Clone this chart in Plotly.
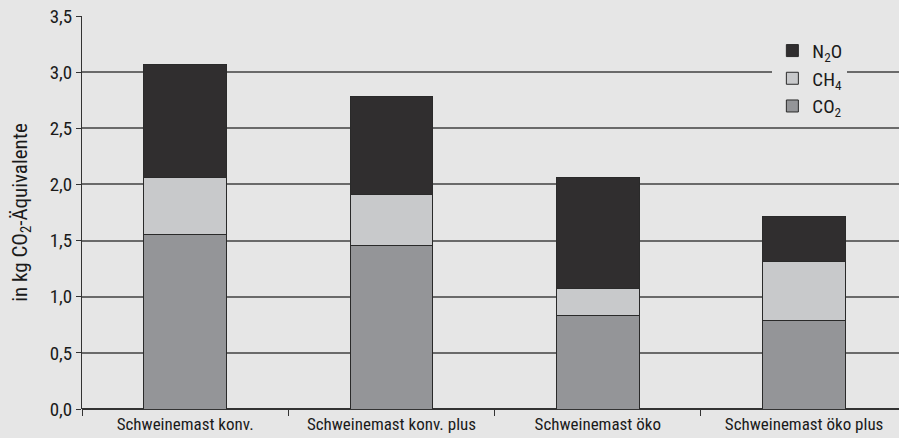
import plotly.graph_objects as go

categories = ["Schweinemast konv.", "Schweinemast konv. plus", "Schweinemast öko", "Schweinemast öko plus"]
co2 = [1.55, 1.46, 0.83, 0.79]
ch4 = [0.51, 0.45, 0.24, 0.52]
n2o = [1.01, 0.87, 0.99, 0.40]

FONT = "Liberation Sans Narrow, Roboto Condensed, Arial Narrow, sans-serif"
BG = "#e6e6e6"
EDGE = "#2a2a2a"

fig = go.Figure()
fig.add_trace(go.Bar(x=categories, y=co2, name="CO<sub>2</sub>", marker=dict(color="#949598", line=dict(color=EDGE, width=1))))
fig.add_trace(go.Bar(x=categories, y=ch4, name="CH<sub>4</sub>", marker=dict(color="#c8c9cb", line=dict(color=EDGE, width=1))))
fig.add_trace(go.Bar(x=categories, y=n2o, name="N<sub>2</sub>O", marker=dict(color="#302e2f", line=dict(color=EDGE, width=1))))

fig.update_layout(
    barmode="stack",
    bargap=0.6,
    width=899, height=438,
    margin=dict(l=82, r=0, t=16, b=29),
    paper_bgcolor=BG, plot_bgcolor=BG,
    font=dict(family=FONT, size=17, color="#1a1a1a"),
    separators=",.",
    showlegend=True,
    legend=dict(
        x=0.845, y=0.96, xanchor="left", yanchor="top",
        bgcolor=BG, traceorder="reversed",
        font=dict(family=FONT, size=19, color="#1a1a1a"),
        itemwidth=30, tracegroupgap=0,
    ),
    xaxis=dict(
        range=[-0.5, 3.46],
        showgrid=False,
        ticks="outside", tickson="boundaries", ticklen=6, tickcolor="#333",
        showline=False, automargin=False, ticklabelstandoff=3,
        tickfont=dict(family=FONT, size=17, color="#1a1a1a"),
    ),
    yaxis=dict(
        range=[0, 3.5], dtick=0.5, tickformat=".1f",
        showgrid=True, gridcolor="#6a6a6a", gridwidth=1.5,
        showline=True, linecolor="#333", linewidth=1,
        ticks="outside", ticklen=5, tickcolor="#333",
        zeroline=True, zerolinecolor="#333", zerolinewidth=1.5,
        automargin=False,
        title=dict(text="in kg CO<sub>2</sub>-Äquivalente", font=dict(family=FONT, size=21, color="#1a1a1a"), standoff=16),
        tickfont=dict(family=FONT, size=19, color="#1a1a1a"),
    ),
)

fig.write_html("out.html")
